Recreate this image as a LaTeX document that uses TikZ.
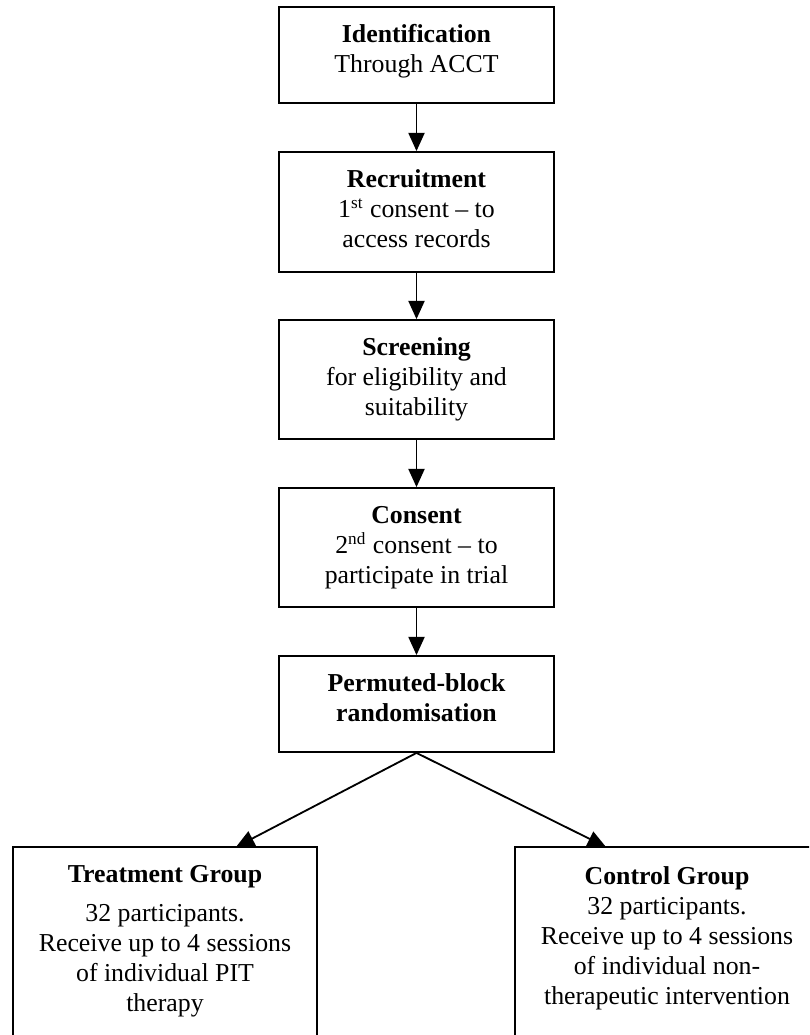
\documentclass[tikz,border=0pt]{standalone}
\usepackage{fontspec}
\setmainfont{Liberation Serif}
\usetikzlibrary{arrows.meta}
\begin{document}
\begin{tikzpicture}[x=0.465pt,y=-0.465pt,
  box/.style={draw, line width=0.85pt, inner sep=0pt, minimum width=127.9pt},
  wbox/.style={draw, line width=0.85pt, inner sep=0pt, minimum width=141.4pt, minimum height=94.4pt},
  txt/.style={anchor=north, align=center, inner sep=0pt, font=\fontsize{12}{14}\selectfont},
  arr/.style={line width=0.85pt, -{Triangle[width=7.5pt,length=8.5pt]}}]
\useasboundingbox (0,0) rectangle (809,1035);
\clip (0,0) rectangle (809,1035);
% boxes
\node[box, minimum height=44.64pt] (ident) at (416.5,55) {};
\node[box, minimum height=55.8pt] (recruit) at (416.5,212) {};
\node[box, minimum height=55.3pt] (screen) at (416.5,379.5) {};
\node[box, minimum height=55.3pt] (consent) at (416.5,547.5) {};
\node[box, minimum height=44.64pt] (perm) at (416.5,704) {};
\node[wbox] (treat) at (165,948.5) {};
\node[wbox, minimum width=160pt] (control) at (687,948.5) {};
% texts
\node[txt] (ident-t) at (416.5,20.5) {\rule{0pt}{10pt}\textbf{Identification}\\Through ACCT};
\node[txt] (recruit-t) at (416.5,165.5) {\rule{0pt}{10pt}\textbf{Recruitment}\\1\textsuperscript{st} consent – to\\access records};
\node[txt] (screen-t) at (416.5,333.5) {\rule{0pt}{10pt}\textbf{Screening}\\for eligibility and\\suitability};
\node[txt] (consent-t) at (416.5,501.5) {\rule{0pt}{10pt}\textbf{Consent}\\2\textsuperscript{nd} consent – to\\participate in trial};
\node[txt] (perm-t) at (416.5,669.5) {\rule{0pt}{10pt}\textbf{Permuted-block}\\\textbf{randomisation}};
\node[txt] (treat-t) at (165,860.5) {\rule{0pt}{10pt}\textbf{Treatment Group}\\[4pt]32 participants.\\Receive up to 4 sessions\\of individual PIT\\therapy};
\node[txt] (control-t) at (667,862.5) {\rule{0pt}{10pt}\textbf{Control Group}\\32 participants.\\Receive up to 4 sessions\\of individual non-\\therapeutic intervention};
% connectors
\coordinate (treat-in) at (236,847);
\coordinate (control-in) at (606,847);
\draw[arr] (ident) -- (recruit);
\draw[arr] (recruit) -- (screen);
\draw[arr] (screen) -- (consent);
\draw[arr] (consent) -- (perm);
\draw[arr] (perm.south) -- (treat-in);
\draw[arr] (perm.south) -- (control-in);
\end{tikzpicture}
\end{document}
